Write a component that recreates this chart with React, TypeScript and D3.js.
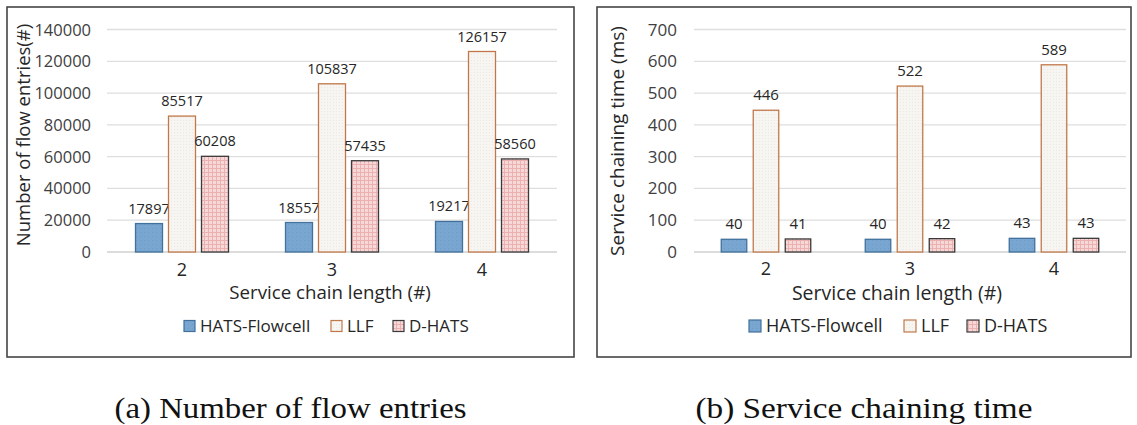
import React from "react";
import * as d3 from "d3";

const categories = ["2", "3", "4"];
const seriesNames = ["HATS-Flowcell", "LLF", "D-HATS"];
const flowHats = [17897, 18557, 19217];
const flowLLF = [85517, 105837, 126157];
const flowDHats = [60208, 57435, 58560];
const timeHats = [40, 40, 43];
const timeLLF = [446, 522, 589];
const timeDHats = [41, 42, 43];
const flowTicks = [0, 20000, 40000, 60000, 80000, 100000, 120000, 140000];
const timeTicks = [0, 100, 200, 300, 400, 500, 600, 700];

const FONT = "'Open Sans', 'Noto Sans', sans-serif";
const fills = ["url(#pHats)", "url(#pLLF)", "url(#pDH)"];
const strokes = ["#41719c", "#c0784a", "#3a3a3a"];

type PanelProps = {
  box: [number, number, number, number];
  xRange: [number, number];
  yMax: number;
  ticks: number[];
  series: number[][];
  yTitle: string;
  yTitleX: number;
  yTitleY: number;
  yTitleFs: number;
  tickRight: number;
  tickFs: number;
  labelFs: number;
  barW: number;
  step: number;
  legendFs: number;
  legendX: number[];
  legendSq: number;
  xTitleX: number;
  xTitleY: number;
  xTitleFs: number;
  xTickY: number;
  caption: string;
  captionLen: number;
};

function Panel(p: PanelProps) {
  const x0 = d3.scaleBand<string>().domain(categories).range(p.xRange);
  const y = d3.scaleLinear().domain([0, p.yMax]).range([252, 29.5]);
  const [bx, by, bx2, by2] = p.box;
  return (
    <g>
      <rect x={bx} y={by} width={bx2 - bx} height={by2 - by} fill="#fff" stroke="#454545" strokeWidth={1.6} />
      {p.ticks.map((t) => (
        <g key={t}>
          <line x1={p.xRange[0]} x2={p.xRange[1]} y1={y(t)} y2={y(t)} stroke={t === 0 ? "#d0d0d0" : "#dedede"} strokeWidth={1.3} />
          <text x={p.tickRight} y={y(t) + 6} textAnchor="end" fontSize={p.tickFs} fill="#404040" fontFamily={FONT}>
            {t}
          </text>
        </g>
      ))}
      {categories.map((c, ci) => {
        const center = (x0(c) as number) + x0.bandwidth() / 2;
        return (
          <g key={c}>
            {p.series.map((s, si) => {
              const v = s[ci];
              const xc = center + (si - 1) * p.step;
              return (
                <g key={si}>
                  <rect x={xc - p.barW / 2} y={y(v)} width={p.barW} height={y(0) - y(v)} fill={fills[si]} stroke={strokes[si]} strokeWidth={1.3} />
                  <text x={xc} y={y(v) - 10} textAnchor="middle" fontSize={p.labelFs} fill="#262626" fontFamily={FONT}>
                    {v}
                  </text>
                </g>
              );
            })}
            <text x={center} y={p.xTickY} textAnchor="middle" fontSize={18} fill="#262626" fontFamily={FONT}>
              {c}
            </text>
          </g>
        );
      })}
      <text x={p.xTitleX} y={p.xTitleY} textAnchor="middle" fontSize={p.xTitleFs} fill="#262626" fontFamily={FONT}>
        Service chain length (#)
      </text>
      <text transform={`translate(${p.yTitleX},${p.yTitleY}) rotate(-90)`} textAnchor="middle" fontSize={p.yTitleFs} fill="#262626" fontFamily={FONT}>
        {p.yTitle}
      </text>
      {seriesNames.map((n, i) => (
        <g key={n}>
          <rect x={p.legendX[i]} y={326 - p.legendSq / 2} width={p.legendSq} height={p.legendSq} fill={fills[i]} stroke={strokes[i]} strokeWidth={1.2} />
          <text x={p.legendX[i] + p.legendSq + 5} y={332} fontSize={p.legendFs} fill="#262626" fontFamily={FONT}>
            {n}
          </text>
        </g>
      ))}
      <text
        x={(bx + bx2) / 2}
        y={418}
        textAnchor="middle"
        fontSize={30}
        fill="#111"
        fontFamily="'Liberation Serif', 'DejaVu Serif', serif"
        textLength={p.captionLen}
        lengthAdjust="spacingAndGlyphs"
      >
        {p.caption}
      </text>
    </g>
  );
}

export default function App() {
  return (
    <svg width={1137} height={425} style={{ position: "absolute", left: 0, top: 0, background: "#fff" }}>
      <defs>
        <pattern id="pHats" width={4} height={4} patternUnits="userSpaceOnUse">
          <rect width={4} height={4} fill="#79a6d0" />
          <rect width={1} height={1} fill="#6f9cc7" />
        </pattern>
        <pattern id="pLLF" width={3} height={3} patternUnits="userSpaceOnUse">
          <rect width={3} height={3} fill="#f7f5f2" />
          <rect width={1} height={1} fill="#ece8e2" />
        </pattern>
        <pattern id="pDH" width={4} height={4} patternUnits="userSpaceOnUse">
          <rect width={4} height={4} fill="#f6d8d8" />
          <rect width={4} height={1} fill="#ebb0b0" />
          <rect width={1} height={4} fill="#ebb0b0" />
        </pattern>
      </defs>
      <rect width={1137} height={425} fill="#fff" />
      <Panel
        box={[7, 7, 574, 357]}
        xRange={[107, 557]}
        yMax={140000}
        ticks={flowTicks}
        series={[flowHats, flowLLF, flowDHats]}
        yTitle="Number of flow entries(#)"
        yTitleX={29.5}
        yTitleY={135}
        yTitleFs={18.5}
        tickRight={91}
        tickFs={16.5}
        labelFs={14.5}
        barW={27}
        step={33}
        legendFs={17}
        legendX={[184, 331, 393]}
        legendSq={11}
        xTitleX={330}
        xTitleY={299}
        xTitleFs={18.7}
        xTickY={276}
        caption="(a) Number of flow entries"
        captionLen={352}
      />
      <Panel
        box={[597, 7, 1131, 357]}
        xRange={[694, 1126]}
        yMax={700}
        ticks={timeTicks}
        series={[timeHats, timeLLF, timeDHats]}
        yTitle="Service chaining time (ms)"
        yTitleX={624}
        yTitleY={141}
        yTitleFs={19}
        tickRight={677}
        tickFs={17}
        labelFs={15}
        barW={25.5}
        step={32}
        legendFs={18}
        legendX={[749, 904, 967]}
        legendSq={12}
        xTitleX={897}
        xTitleY={300}
        xTitleFs={19.5}
        xTickY={275}
        caption="(b) Service chaining time"
        captionLen={337}
      />
    </svg>
  );
}
